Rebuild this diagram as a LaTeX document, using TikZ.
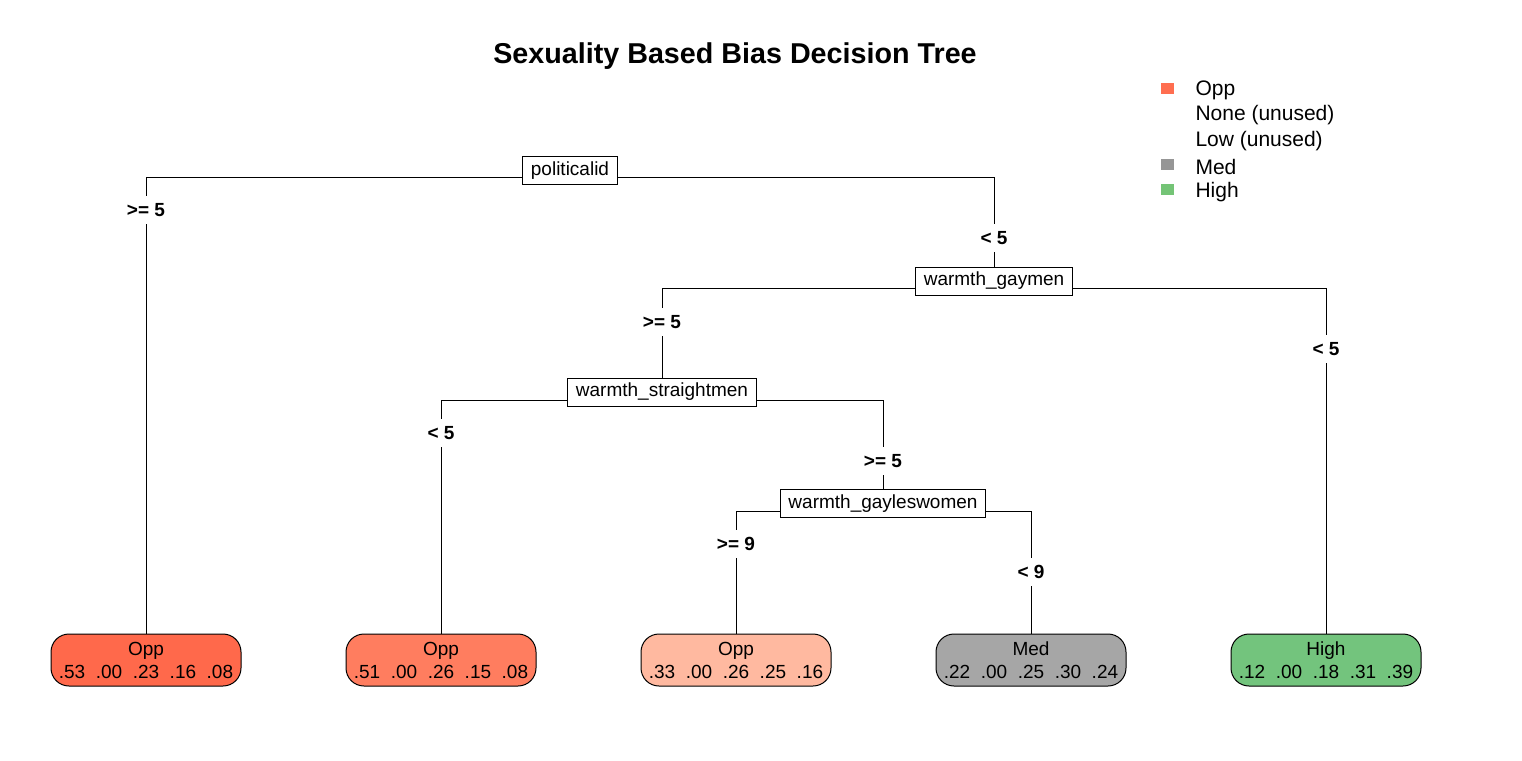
\documentclass[tikz,border=0pt]{standalone}
\usepackage{fontspec}
\setmainfont{Liberation Sans}
\usetikzlibrary{backgrounds}
\definecolor{oppA}{RGB}{255,105,75}
\definecolor{oppB}{RGB}{255,125,95}
\definecolor{oppC}{RGB}{255,185,160}
\definecolor{medC}{RGB}{166,166,166}
\definecolor{highC}{RGB}{115,196,125}
\definecolor{oppL}{RGB}{255,110,80}
\definecolor{medL}{RGB}{150,150,150}
\definecolor{highL}{RGB}{116,196,118}
\begin{document}
\begin{tikzpicture}[x=1pt,y=-1pt,line width=1pt,
  splitbox/.style={draw, fill=white, font=\fontsize{19}{23}\selectfont, inner xsep=8pt, inner ysep=0pt, minimum height=28pt},
  leafbox/.style={draw, rounded corners=18pt, minimum width=190pt, minimum height=52pt, align=center, inner sep=0pt, font=\fontsize{19}{23}\selectfont},
  lab/.style={fill=white, font=\bfseries\fontsize{19}{23}\selectfont, inner xsep=2pt, inner ysep=0pt, minimum height=28pt},
  legtext/.style={anchor=west, inner sep=0pt, font=\fontsize{21}{25}\selectfont},
  edge/.style={draw}]
\useasboundingbox (0,0) rectangle (1522,760);

\node[font=\bfseries\fontsize{28.7}{34}\selectfont] (title) at (735,56) {Sexuality Based Bias Decision Tree};

% legend
\fill[oppL] (1161,83) rectangle (1174,94);
\fill[medL] (1161,159) rectangle (1174,170);
\fill[highL] (1161,184) rectangle (1174,195);
\node[legtext] (lg1) at (1195,90) {Opp};
\node[legtext] (lg2) at (1195,115.5) {None (unused)};
\node[legtext] (lg3) at (1195,141) {Low (unused)};
\node[legtext] (lg4) at (1195,166.5) {Med};
\node[legtext] (lg5) at (1195,192) {High};

% split nodes
\node[splitbox] (pol) at (570,170.5) {politicalid};
\node[splitbox] (gm) at (994,281) {warmth\_gaymen};
\node[splitbox] (sm) at (662,392) {warmth\_straightmen};
\node[splitbox] (gw) at (883,503.5) {warmth\_gayleswomen};

% leaves
\node[leafbox, fill=oppA] (l1) at (146,660) {\raisebox{-2pt}{Opp}\\\raisebox{-2pt}{.53\ \ .00\ \ .23\ \ .16\ \ .08}};
\node[leafbox, fill=oppB] (l2) at (441,660) {\raisebox{-2pt}{Opp}\\\raisebox{-2pt}{.51\ \ .00\ \ .26\ \ .15\ \ .08}};
\node[leafbox, fill=oppC] (l3) at (736,660) {\raisebox{-2pt}{Opp}\\\raisebox{-2pt}{.33\ \ .00\ \ .26\ \ .25\ \ .16}};
\node[leafbox, fill=medC] (l4) at (1031,660) {\raisebox{-2pt}{Med}\\\raisebox{-2pt}{.22\ \ .00\ \ .25\ \ .30\ \ .24}};
\node[leafbox, fill=highC] (l5) at (1326,660) {\raisebox{-2pt}{High}\\\raisebox{-2pt}{.12\ \ .00\ \ .18\ \ .31\ \ .39}};

% edges
\begin{scope}[on background layer]
\draw[edge] ([yshift=-6.5pt]pol.center) -| (l1.north);
\draw[edge] ([yshift=-6.5pt]pol.center) -| (gm.north);
\draw[edge] ([yshift=-7pt]gm.center) -| (sm.north);
\draw[edge] ([yshift=-7pt]gm.center) -| (l5.north);
\draw[edge] ([yshift=-8pt]sm.center) -| (l2.north);
\draw[edge] ([yshift=-8pt]sm.center) -| (gw.north);
\draw[edge] ([yshift=-7.5pt]gw.center) -| (l3.north);
\draw[edge] ([yshift=-7.5pt]gw.center) -| (l4.north);
\end{scope}

% branch labels
\node[lab] (e1) at (146,210) {>= 5};
\node[lab] (e2) at (994,238) {< 5};
\node[lab] (e3) at (662,322) {>= 5};
\node[lab] (e4) at (1326,349) {< 5};
\node[lab] (e5) at (441,433) {< 5};
\node[lab] (e6) at (883,461) {>= 5};
\node[lab] (e7) at (736,544) {>= 9};
\node[lab] (e8) at (1031,572) {< 9};
\end{tikzpicture}
\end{document}
